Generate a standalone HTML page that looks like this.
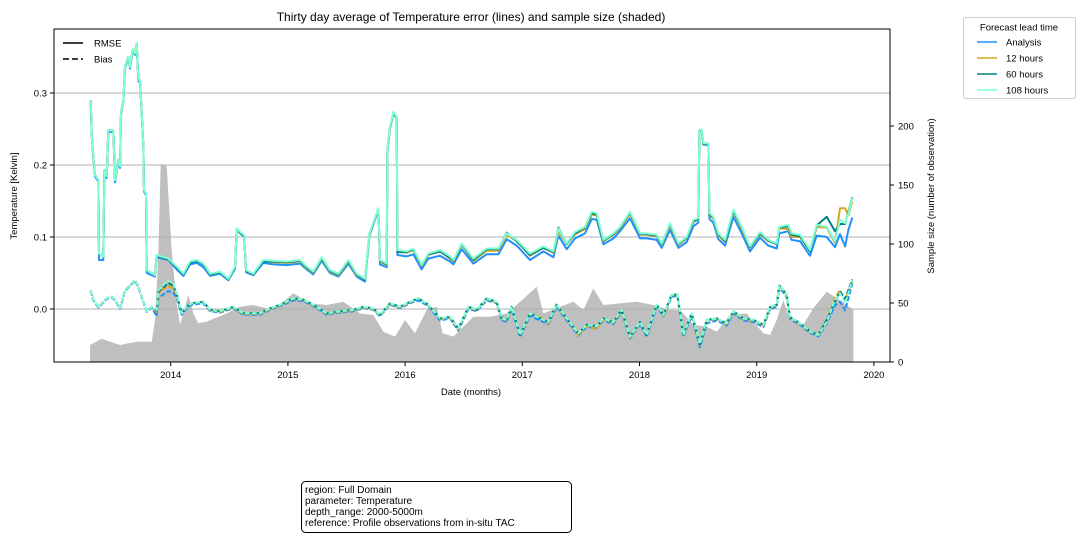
<!DOCTYPE html>
<html><head><meta charset="utf-8"><style>
body{margin:0;background:#fff;}
svg{display:block;font-family:"Liberation Sans","DejaVu Sans",sans-serif;}
</style></head><body>
<svg id="chart" width="1084" height="540" viewBox="0 0 1084 540" xmlns="http://www.w3.org/2000/svg">
<rect x="0" y="0" width="1084" height="540" fill="#fff"/>
<text x="471" y="21" font-size="12" text-anchor="middle">Thirty day average of Temperature error (lines) and sample size (shaded)</text>
<g id="fillLayer"></g>
<g id="gridLayer"></g>
<g id="lineLayer"></g>
<rect x="54" y="29" width="836" height="333" fill="none" stroke="#000" stroke-width="1"/>
<g id="axisLayer" font-size="9.5"></g>
<text transform="translate(17,196) rotate(-90)" font-size="9.5" text-anchor="middle">Temperature [Kelvin]</text>
<text transform="translate(934,196) rotate(-90)" font-size="9.5" text-anchor="middle">Sample size (number of observation)</text>
<text x="471" y="395" font-size="9.5" text-anchor="middle">Date (months)</text>
<g font-size="9.5">
<line x1="63" y1="43" x2="83" y2="43" stroke="#000" stroke-width="1.6"/>
<text x="94" y="46.5">RMSE</text>
<line x1="63" y1="59" x2="83" y2="59" stroke="#000" stroke-width="1.6" stroke-dasharray="6,3"/>
<text x="94" y="62.5">Bias</text>
</g>
<g font-size="9.5">
<rect x="963.5" y="17.5" width="112" height="81" rx="2" fill="#fff" stroke="#ccc"/>
<text x="1019" y="30.5" text-anchor="middle">Forecast lead time</text>
<line x1="977" y1="42" x2="997" y2="42" stroke="#1e90ff" stroke-width="1.6"/><text x="1006" y="45.5">Analysis</text>
<line x1="977" y1="58" x2="997" y2="58" stroke="#daa520" stroke-width="1.6"/><text x="1006" y="61.5">12 hours</text>
<line x1="977" y1="74" x2="997" y2="74" stroke="#008080" stroke-width="1.6"/><text x="1006" y="77.5">60 hours</text>
<line x1="977" y1="90" x2="997" y2="90" stroke="#7fffd4" stroke-width="1.6"/><text x="1006" y="93.5">108 hours</text>
</g>
<g font-size="10">
<rect x="301.5" y="481.5" width="270" height="51" rx="4" fill="#fff" stroke="#000"/>
<text x="305" y="493">region: Full Domain</text>
<text x="305" y="504">parameter: Temperature</text>
<text x="305" y="515">depth_range: 2000-5000m</text>
<text x="305" y="526">reference: Profile observations from in-situ TAC</text>
</g>
</svg>
<script>
const rmseDates=[2013.317,2013.326,2013.340,2013.354,2013.383,2013.388,2013.425,2013.434,2013.454,2013.468,
2013.511,2013.525,2013.553,2013.568,2013.576,2013.596,2013.610,2013.639,2013.653,2013.676,
2013.696,2013.710,2013.724,2013.738,2013.752,2013.767,2013.772,2013.789,2013.795,2013.866,
2013.880,2013.980,2014.051,2014.108,2014.165,2014.222,2014.279,2014.336,2014.421,2014.492,
2014.549,2014.563,2014.606,2014.626,2014.643,2014.705,2014.790,2014.876,2014.990,2015.103,
2015.160,2015.217,2015.288,2015.359,2015.431,2015.516,2015.587,2015.658,2015.695,2015.772,
2015.786,2015.843,2015.849,2015.871,2015.900,2015.928,2015.934,2016.014,2016.070,2016.141,
2016.198,2016.298,2016.383,2016.412,2016.483,2016.582,2016.696,2016.796,2016.867,2016.952,
2017.066,2017.180,2017.265,2017.308,2017.379,2017.450,2017.535,2017.592,2017.635,2017.692,
2017.777,2017.834,2017.919,2018.005,2018.061,2018.147,2018.189,2018.260,2018.332,2018.403,
2018.460,2018.502,2018.511,2018.531,2018.545,2018.588,2018.596,2018.630,2018.673,2018.730,
2018.801,2018.872,2018.943,2019.028,2019.099,2019.171,2019.193,2019.270,2019.298,2019.370,
2019.455,2019.512,2019.597,2019.668,2019.711,2019.754,2019.782,2019.816];
const rmseAnalysis=[.288,.242,.210,.184,.177,.068,.068,.190,.182,.246,
.246,.176,.205,.196,.270,.288,.334,.348,.334,.358,
.353,.367,.316,.316,.274,.223,.163,.158,.050,.045,
.072,.068,.055,.046,.062,.064,.058,.046,.049,.040,
.056,.110,.103,.101,.051,.047,.064,.062,.061,.063,
.055,.048,.067,.050,.045,.063,.045,.038,.102,.138,
.062,.058,.219,.251,.272,.265,.075,.073,.076,.055,
.070,.074,.066,.062,.083,.063,.076,.076,.097,.088,
.068,.080,.072,.102,.083,.098,.105,.125,.124,.090,
.098,.108,.126,.098,.098,.096,.085,.110,.085,.093,
.115,.120,.247,.247,.228,.228,.125,.120,.097,.088,
.128,.105,.080,.099,.088,.084,.105,.108,.096,.094,
.074,.102,.100,.086,.104,.087,.110,.127];
const rmse12h=[.290,.244,.212,.186,.179,.077,.073,.193,.184,.248,
.248,.179,.207,.198,.272,.290,.336,.350,.336,.360,
.355,.369,.318,.318,.276,.225,.165,.160,.054,.047,
.074,.069,.058,.048,.065,.067,.062,.048,.051,.041,
.058,.111,.104,.102,.053,.048,.067,.065,.064,.066,
.057,.050,.070,.052,.047,.066,.047,.041,.104,.139,
.066,.061,.220,.252,.273,.266,.080,.078,.082,.059,
.075,.080,.070,.066,.089,.067,.081,.081,.103,.095,
.074,.085,.078,.108,.090,.104,.111,.131,.130,.094,
.103,.112,.132,.103,.103,.101,.089,.116,.089,.098,
.121,.124,.248,.248,.229,.229,.130,.126,.102,.093,
.135,.111,.085,.104,.094,.092,.112,.111,.100,.100,
.080,.114,.113,.092,.140,.140,.130,.150];
const rmse60h=[.290,.244,.212,.186,.179,.077,.073,.193,.184,.248,
.248,.179,.207,.198,.272,.290,.336,.350,.336,.360,
.355,.369,.318,.318,.276,.225,.165,.160,.054,.047,
.074,.069,.058,.048,.064,.067,.062,.048,.051,.041,
.058,.111,.104,.102,.053,.048,.066,.066,.065,.067,
.058,.051,.071,.053,.048,.067,.048,.041,.104,.139,
.067,.062,.220,.252,.273,.266,.079,.079,.083,.060,
.076,.080,.071,.067,.090,.068,.083,.083,.106,.094,
.075,.085,.079,.113,.090,.105,.113,.133,.131,.095,
.104,.113,.134,.104,.104,.102,.090,.118,.090,.099,
.122,.125,.248,.248,.229,.229,.131,.127,.104,.094,
.136,.113,.086,.105,.095,.090,.113,.115,.103,.101,
.080,.116,.128,.108,.118,.118,.135,.155];
const rmse108h=[.290,.244,.212,.186,.179,.077,.073,.193,.184,.248,
.248,.179,.207,.198,.272,.290,.336,.350,.336,.360,
.355,.369,.318,.318,.276,.225,.165,.160,.054,.047,
.075,.070,.059,.049,.066,.068,.063,.049,.052,.042,
.059,.112,.105,.103,.054,.049,.068,.067,.066,.068,
.059,.052,.072,.054,.049,.068,.049,.042,.105,.140,
.068,.063,.221,.253,.274,.267,.082,.080,.084,.061,
.077,.082,.073,.068,.091,.070,.084,.084,.105,.096,
.077,.087,.080,.112,.091,.107,.114,.135,.133,.096,
.105,.114,.135,.105,.105,.103,.091,.119,.091,.100,
.124,.126,.249,.249,.230,.230,.133,.128,.105,.096,
.138,.114,.087,.107,.096,.091,.114,.117,.105,.103,
.082,.117,.114,.094,.124,.119,.133,.154];

const biasDates=[2013.317,2013.340,2013.383,2013.425,2013.454,2013.497,2013.525,2013.568,2013.610,2013.653,
2013.696,2013.724,2013.752,2013.795,2013.838,2013.880,2013.895,2013.937,2013.980,2014.023,
2014.051,2014.094,2014.136,2014.179,2014.279,2014.336,2014.421,2014.535,2014.620,2014.762,
2014.847,2014.933,2015.047,2015.132,2015.217,2015.331,2015.445,2015.558,2015.644,2015.729,
2015.786,2015.871,2015.957,2016.042,2016.113,2016.198,2016.298,2016.383,2016.454,2016.540,
2016.611,2016.696,2016.781,2016.824,2016.867,2016.909,2016.981,2017.066,2017.151,2017.222,
2017.293,2017.379,2017.478,2017.549,2017.635,2017.692,2017.777,2017.848,2017.919,2018.005,
2018.061,2018.147,2018.204,2018.275,2018.323,2018.374,2018.445,2018.516,2018.573,2018.659,
2018.744,2018.801,2018.886,2018.971,2019.057,2019.114,2019.171,2019.193,2019.256,2019.284,
2019.370,2019.455,2019.526,2019.597,2019.668,2019.711,2019.754,2019.816];
const biasAnalysis=[.025,.012,.002,.009,.014,.016,.012,.000,.025,.032,
.039,.030,.016,-.004,.002,-.010,.015,.020,.025,.022,
.016,-.008,.001,.006,.008,-.003,-.005,.001,-.008,-.008,
-.001,.004,.012,.011,.004,-.008,-.005,-.003,.001,-.001,
-.010,.006,.001,.008,.012,.004,-.016,-.013,-.030,.000,
-.003,.012,.008,-.016,-.018,.000,-.039,-.009,-.016,-.021,
.003,-.016,-.037,-.025,-.026,-.016,-.021,-.004,-.041,-.021,
-.039,.003,-.010,.017,.018,-.039,-.010,-.053,-.020,-.016,
-.023,-.006,-.016,-.018,-.025,.000,.003,.030,.017,-.014,
-.022,-.033,-.038,-.020,.005,.010,-.002,.035];
const bias12h=[.026,.013,.003,.010,.015,.017,.013,.001,.026,.033,
.040,.031,.017,-.003,.003,-.004,.022,.028,.032,.028,
.020,-.006,.003,.008,.010,-.002,-.004,.002,-.007,-.007,
.000,.005,.014,.012,.005,-.007,-.004,-.002,.002,.000,
-.009,.007,.002,.009,.015,.005,-.014,-.012,-.028,.002,
-.002,.014,.009,-.014,-.016,.002,-.037,-.007,-.011,-.020,
.005,-.014,-.036,-.024,-.028,-.014,-.019,-.002,-.040,-.019,
-.037,.006,-.009,.019,.019,-.037,-.007,-.050,-.016,-.014,
-.021,-.004,-.014,-.016,-.023,.002,.005,.032,.019,-.012,
-.021,-.032,-.036,-.016,.016,.026,.012,.038];
const bias60h=[.026,.013,.003,.010,.015,.017,.013,.001,.026,.033,
.040,.031,.017,-.003,.003,-.002,.024,.030,.036,.032,
.021,-.006,.003,.008,.010,-.001,-.003,.003,-.006,-.006,
.001,.006,.015,.013,.006,-.006,-.003,-.001,.003,.001,
-.008,.008,.003,.010,.015,.006,-.013,-.011,-.027,.003,
-.001,.015,.010,-.013,-.015,.003,-.036,-.006,-.013,-.018,
.006,-.013,-.034,-.022,-.024,-.013,-.018,-.001,-.038,-.018,
-.036,.006,-.008,.020,.020,-.036,-.006,-.049,-.015,-.013,
-.020,-.003,-.013,-.015,-.022,.003,.006,.033,.020,-.011,
-.020,-.031,-.036,-.015,.010,.024,.014,.041];
const bias108h=[.026,.013,.003,.010,.015,.017,.013,.001,.026,.033,
.040,.031,.017,-.003,.003,-.001,.026,.033,.040,.035,
.022,-.006,.003,.008,.010,-.001,-.003,.003,-.006,-.006,
.001,.006,.015,.013,.006,-.006,-.003,-.001,.003,.001,
-.008,.008,.003,.010,.015,.006,-.013,-.011,-.027,.003,
-.001,.015,.010,-.013,-.015,.003,-.036,-.006,-.013,-.018,
.006,-.013,-.034,-.022,-.024,-.013,-.018,-.001,-.038,-.018,
-.036,.006,-.008,.020,.020,-.036,-.006,-.048,-.015,-.013,
-.020,-.003,-.013,-.015,-.022,.003,.006,.033,.020,-.011,
-.020,-.031,-.036,-.018,.013,.022,.008,.040];

const sampleDates=[2013.312,2013.411,2013.568,2013.710,2013.838,2013.866,2013.895,2013.915,2013.966,2014.008,
2014.051,2014.080,2014.122,2014.151,2014.193,2014.236,2014.307,2014.478,2014.591,2014.705,
2014.876,2015.047,2015.189,2015.331,2015.473,2015.615,2015.729,2015.814,2015.914,2015.999,
2016.084,2016.184,2016.269,2016.320,2016.412,2016.582,2016.725,2016.867,2016.981,2017.123,
2017.180,2017.322,2017.436,2017.521,2017.606,2017.692,2017.834,2017.976,2018.118,2018.260,
2018.346,2018.460,2018.573,2018.659,2018.772,2018.914,2019.057,2019.114,2019.171,2019.227,
2019.284,2019.398,2019.483,2019.597,2019.711,2019.825];
const sampleSize=[14.4,19.7,14.4,17.2,17.2,35.6,92.4,168,166,95.2,
49.7,31.4,46.9,56.8,41.2,32.8,34.2,41.2,46.9,48.3,
44.1,58.2,49.7,48.3,51.1,41.2,39.8,25.7,21.5,35.6,
24.3,44.1,46.9,24.3,21.5,38.4,38.4,41.2,51.1,63.8,
41.2,46.9,51.1,44.1,62.4,48.3,49.7,51.1,48.3,44.1,
44.1,31.4,30.0,25.7,39.8,41.2,24.3,22.9,35.6,52.5,
35.6,31.4,45.5,59.6,52.5,44.1];

const leftTicks=[0.0,0.1,0.2,0.3];
const leftTickLabels=["0.0","0.1","0.2","0.3"];
const rightTicks=[0,50,100,150,200];
const xTicks=[2014,2015,2016,2017,2018,2019,2020];

const NS="http://www.w3.org/2000/svg";
function xS(yr){return 170.7+(yr-2014)*117.2;}
function yL(v){return 309-v*720;}
function yR(s){return 362-s*1.18;}
function mk(tag,attrs,parent){const e=document.createElementNS(NS,tag);for(const k in attrs)e.setAttribute(k,attrs[k]);parent.appendChild(e);return e;}

const fillLayer=document.getElementById('fillLayer');
const gridLayer=document.getElementById('gridLayer');
const lineLayer=document.getElementById('lineLayer');
const axisLayer=document.getElementById('axisLayer');

// sample size area
let d="M"+xS(sampleDates[0]).toFixed(1)+","+yR(0);
for(let i=0;i<sampleDates.length;i++){d+=" L"+xS(sampleDates[i]).toFixed(1)+","+yR(sampleSize[i]).toFixed(1);}
d+=" L"+xS(sampleDates[sampleDates.length-1]).toFixed(1)+","+yR(0)+" Z";
const area=mk('path',{d:d,fill:'#bfbfbf',stroke:'none'},fillLayer);



// grid + left ticks
leftTicks.forEach((t,i)=>{
  const y=yL(t);
  const g=mk('line',{x1:54,x2:890,y1:y,y2:y,stroke:'#b0b0b0','stroke-width':1},gridLayer);
  
  
  mk('line',{x1:50,x2:54,y1:y,y2:y,stroke:'#000'},axisLayer);
  const tx=mk('text',{x:47,y:y+3.5,'text-anchor':'end'},axisLayer);
  tx.textContent=leftTickLabels[i];
  
  
});
rightTicks.forEach(t=>{
  const y=yR(t);
  mk('line',{x1:890,x2:894,y1:y,y2:y,stroke:'#000'},axisLayer);
  const tx=mk('text',{x:898,y:y+3.5},axisLayer);
  tx.textContent=String(t);
  
  
});
xTicks.forEach(t=>{
  const x=xS(t);
  mk('line',{x1:x,x2:x,y1:362,y2:366,stroke:'#000'},axisLayer);
  const tx=mk('text',{x:x,y:378,'text-anchor':'middle'},axisLayer);
  tx.textContent=String(t);
  
  
});

function drawLine(dates,vals,color,dash,name){
  let p="";
  for(let i=0;i<dates.length;i++){p+=(i?" L":"M")+xS(dates[i]).toFixed(1)+","+yL(vals[i]).toFixed(1);}
  const attrs={d:p,fill:'none',stroke:color,'stroke-width':2,'stroke-linejoin':'round'};
  if(dash)attrs['stroke-dasharray']=dash;
  const e=mk('path',attrs,lineLayer);
  
  
}
drawLine(rmseDates,rmseAnalysis,'#1e90ff',null,'rmse-analysis-line');
drawLine(biasDates,biasAnalysis,'#1e90ff','5,2','bias-analysis-line');
drawLine(rmseDates,rmse12h,'#daa520',null,'rmse-12h-line');
drawLine(biasDates,bias12h,'#daa520','5,2','bias-12h-line');
drawLine(rmseDates,rmse60h,'#008080',null,'rmse-60h-line');
drawLine(biasDates,bias60h,'#008080','5,2','bias-60h-line');
drawLine(rmseDates,rmse108h,'#7fffd4',null,'rmse-108h-line');
drawLine(biasDates,bias108h,'#7fffd4','5,2','bias-108h-line');
</script>
</body></html>
